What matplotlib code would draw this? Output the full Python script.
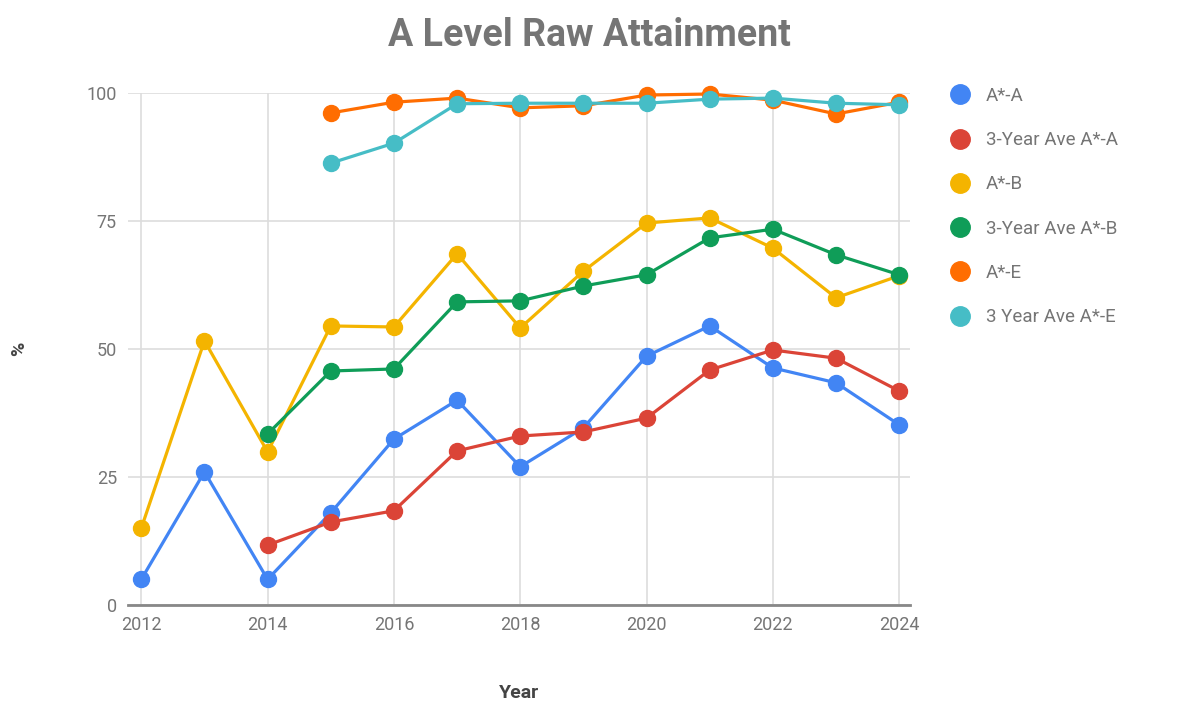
import matplotlib.pyplot as plt
plt.switch_backend('Agg')
from matplotlib.lines import Line2D

plt.rcParams.update({
    'font.family': 'Roboto',
    'font.size': 13,
})

years = list(range(2012, 2025))
# None = no value for that year
a_star_a = [5, 26, 5, 18, 32.4, 40, 27, 34.6, 48.6, 54.5, 46.3, 43.4, 35.2]
ave_a_star_a = [None, None, 11.7, 16.2, 18.4, 30.1, 33, 33.8, 36.5, 45.9, 49.8, 48.2, 41.8]
a_star_b = [15, 51.6, 29.9, 54.5, 54.3, 68.6, 54.1, 65.2, 74.6, 75.6, 69.7, 60, 64.3]
ave_a_star_b = [None, None, 33.4, 45.7, 46.1, 59.2, 59.4, 62.3, 64.5, 71.7, 73.4, 68.4, 64.5]
a_star_e = [None, None, None, 96.1, 98.2, 99, 97.1, 97.5, 99.6, 99.8, 98.6, 95.9, 98.2]
ave_a_star_e = [None, None, None, 86.3, 90.2, 97.9, 98, 98, 98, 98.8, 99, 98, 97.7]

series = [
    ("A*-A", a_star_a, "#4285F4"),
    ("3-Year Ave A*-A", ave_a_star_a, "#DB4437"),
    ("A*-B", a_star_b, "#F4B400"),
    ("3-Year Ave A*-B", ave_a_star_b, "#0F9D58"),
    ("A*-E", a_star_e, "#FF6D01"),
    ("3 Year Ave A*-E", ave_a_star_e, "#46BDC6"),
]

grey = "#757575"
fig = plt.figure(figsize=(11.91, 7.12), dpi=100)
ax = fig.add_axes([0.1075, 0.1503, 0.6565, 0.7191])

handles = []
for name, vals, color in series:
    xs = [y for y, v in zip(years, vals) if v is not None]
    ys = [v for v in vals if v is not None]
    ax.plot(xs, ys, color=color, linewidth=2.3, marker='o', markersize=11.5,
            clip_on=False, zorder=3)
    handles.append(Line2D([], [], color=color, marker='o', linestyle='none',
                          markersize=14))

ax.set_xlim(2011.79, 2024.17)
ax.set_ylim(0, 100)
ax.set_xticks(range(2012, 2025, 2))
ax.set_yticks([0, 25, 50, 75, 100])
ax.grid(True, color="#dddddd", linewidth=1.2)
ax.set_axisbelow(True)
for s in ['top', 'right', 'left']:
    ax.spines[s].set_visible(False)
ax.spines['bottom'].set_color("#888888")
ax.spines['bottom'].set_linewidth(2)
ax.tick_params(length=0, colors=grey, labelsize=13, pad=8)

ax.set_xlabel("Year", fontsize=14, fontweight='bold', color="#444444", labelpad=36)
ax.set_ylabel("%", fontsize=14, fontweight='bold', color="#444444", labelpad=42)

fig.text(0.495, 0.95, "A Level Raw Attainment", ha='center', va='center',
         fontsize=27, fontweight='bold', color=grey)

leg = ax.legend(handles, [s[0] for s in series], loc='upper left',
                bbox_to_anchor=(1.03, 1.045), frameon=False, handlelength=1,
                handletextpad=0.9, labelspacing=1.4, fontsize=13.5)
for t in leg.get_texts():
    t.set_color(grey)

plt.savefig("out.png", dpi=100)
